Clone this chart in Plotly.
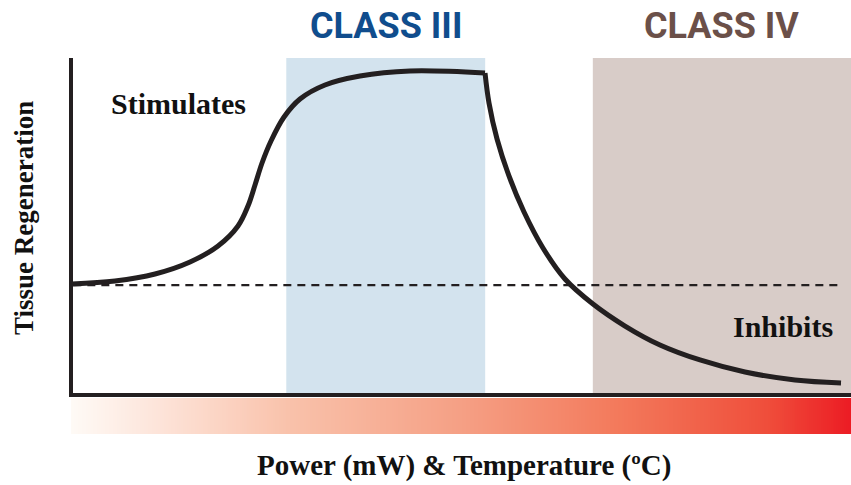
import numpy as np
import plotly.graph_objects as go

# Response curve: rise through Class III, fall through Class IV
rise_x = [0.13, 5.64, 10.77, 15.26, 18.85, 21.41, 22.69, 23.59, 24.49, 25.64, 27.31, 29.36, 32.56, 37.05, 43.46, 53.08]
rise_y = [32.94, 33.83, 35.91, 39.47, 44.21, 50.15, 56.08, 62.31, 68.84, 75.37, 82.49, 87.83, 91.99, 94.66, 96.14, 95.55]
fall_x = [53.08, 53.59, 54.62, 56.15, 58.08, 60.51, 63.33, 66.92, 71.03, 75.51, 80.64, 86.41, 92.82, 98.72]
fall_y = [95.55, 86.65, 75.96, 64.99, 54.30, 43.62, 34.42, 27.00, 20.47, 14.84, 10.39, 6.82, 4.45, 3.56]

baseline_y = 32.6
baseline_x = [0.3, 99.0]

bands = [
    {"name": "CLASS III", "x0": 27.6, "x1": 53.1, "fill": "#d3e3ee", "text": "#104d8d"},
    {"name": "CLASS IV", "x0": 66.9, "x1": 100.0, "fill": "#d8ccc8", "text": "#6b5049"},
]

region_labels = [
    {"text": "Stimulates", "x": 13.8, "y": 86.6},
    {"text": "Inhibits", "x": 91.3, "y": 20.2},
]

x_title = "Power (mW) &amp; Temperature (ºC)"
y_title = "Tissue Regeneration"

# Heat gradient under the axis
grad_x = np.linspace(0, 100, 401)
grad_scale = [
    [0.0, "#fefaf6"], [0.117, "#fde3d8"], [0.278, "#f9c2ab"], [0.504, "#f59f84"],
    [0.699, "#f37a5c"], [0.892, "#ef4e3b"], [1.0, "#ec1c24"],
]

W, H = 851, 485
ML, MR, MT, MB = 71, 0, 58, 51
plot_h = H - MT - MB
main_bottom = (H - MB - 395) / plot_h   # horizontal axis position
grad_top = (H - MB - 398) / plot_h

serif = "Liberation Serif, Times New Roman, serif"
line_col = "#231f20"

fig = go.Figure()

fig.add_trace(go.Heatmap(
    x=grad_x, y=[0, 1], z=[grad_x, grad_x], colorscale=grad_scale,
    showscale=False, hoverinfo="skip", xaxis="x", yaxis="y2",
))

fig.add_trace(go.Scatter(
    x=baseline_x, y=[baseline_y, baseline_y], mode="lines",
    line=dict(color=line_col, width=2.3, dash="8px,6px"), hoverinfo="skip",
))
fig.add_trace(go.Scatter(
    x=rise_x, y=rise_y, mode="lines",
    line=dict(color=line_col, width=5, shape="spline", smoothing=1.0),
))
fig.add_trace(go.Scatter(
    x=fall_x, y=fall_y, mode="lines",
    line=dict(color=line_col, width=5, shape="spline", smoothing=1.0),
))

shapes = []
annotations = []
for b in bands:
    shapes.append(dict(type="rect", xref="x", yref="y", x0=b["x0"], x1=b["x1"], y0=0, y1=100,
                       fillcolor=b["fill"], line=dict(width=0), layer="below"))
    annotations.append(dict(text=b["name"], xref="x", yref="paper",
                            x=(b["x0"] + b["x1"]) / 2, y=(H - MB - 26) / plot_h,
                            showarrow=False, xanchor="center", yanchor="middle",
                            font=dict(family="Roboto", size=36, color=b["text"], weight="bold")))

for lab in region_labels:
    annotations.append(dict(text=lab["text"], xref="x", yref="y", x=lab["x"], y=lab["y"],
                            showarrow=False, xanchor="center", yanchor="middle",
                            font=dict(family=serif, size=30, color="#111111", weight="bold")))

annotations.append(dict(text=x_title, xref="paper", yref="paper",
                        x=(464 - ML) / (W - ML - MR), y=(H - MB - 465) / plot_h,
                        showarrow=False, xanchor="center", yanchor="middle",
                        font=dict(family=serif, size=29, color="#111111", weight="bold")))
annotations.append(dict(text=y_title, xref="paper", yref="paper",
                        x=(24 - ML) / (W - ML - MR), y=(H - MB - 218) / plot_h,
                        showarrow=False, xanchor="center", yanchor="middle", textangle=-90,
                        font=dict(family=serif, size=27, color="#111111", weight="bold")))

# Axis lines
shapes.append(dict(type="line", xref="paper", yref="paper", x0=0, x1=0,
                   y0=(H - MB - 397) / plot_h, y1=1, line=dict(color=line_col, width=4)))
shapes.append(dict(type="line", xref="paper", yref="paper", x0=0, x1=1,
                   y0=main_bottom, y1=main_bottom, line=dict(color=line_col, width=4)))

fig.update_layout(
    width=W, height=H,
    margin=dict(l=ML, r=MR, t=MT, b=MB),
    paper_bgcolor="white", plot_bgcolor="white",
    showlegend=False,
    xaxis=dict(range=[0, 100], visible=False, fixedrange=True),
    yaxis=dict(range=[0, 100], domain=[main_bottom, 1], visible=False, fixedrange=True),
    yaxis2=dict(range=[-0.5, 1.5], domain=[0, grad_top], visible=False, fixedrange=True),
    shapes=shapes, annotations=annotations,
)

fig.write_html("out.html")
